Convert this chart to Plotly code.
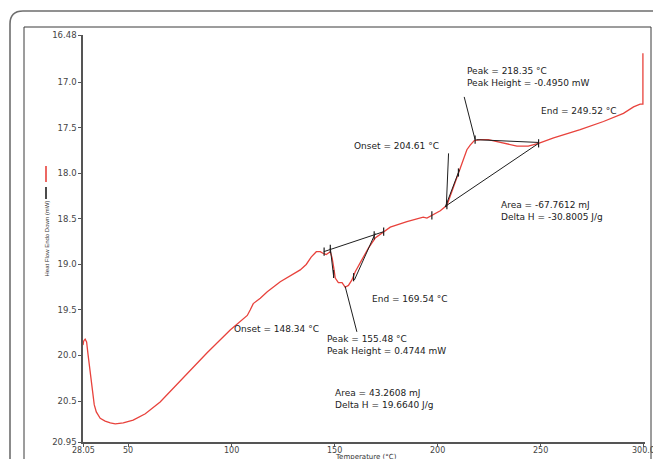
import plotly.graph_objects as go

# ---------------- data ----------------
temp_c = [28.05, 28.4, 29.1, 29.8, 30.5, 31.5, 32.5, 33.5, 34.5, 36.4, 38.8, 41.3, 43.7,
          47.6, 52.4, 58.3, 65.5, 76.7, 88.3, 99.5, 104.4, 107.8, 109.2, 110.7, 114.1,
          117.5, 123.8, 128.6, 133.5, 136.4, 138.8, 141.3, 143.2, 144.7, 146.1, 148.1,
          149.0, 149.8, 150.5, 152.0, 153.8, 155.3, 156.9, 158.6, 160.2, 163.4, 166.6,
          169.9, 173.9, 177.2, 185.3, 193.2, 195.0, 197.6, 201.5, 204.7, 207.3, 210.4,
          212.6, 214.4, 216.0, 218.0, 220.9, 224.8, 229.0, 233.0, 238.7, 244.2, 249.2,
          256.5, 269.4, 280.7, 290.4, 295.3, 298.5, 299.85, 299.85]
heat_flow_mw = [19.885, 19.84, 19.82, 19.85, 19.99, 20.18, 20.40, 20.54, 20.62, 20.69, 20.72,
                20.74, 20.75, 20.74, 20.71, 20.64, 20.51, 20.24, 19.97, 19.72, 19.63, 19.56,
                19.50, 19.43, 19.37, 19.30, 19.19, 19.13, 19.06, 19.00, 18.92, 18.86, 18.86,
                18.88, 18.89, 18.86, 18.93, 19.04, 19.15, 19.20, 19.20, 19.25, 19.23, 19.17,
                19.08, 18.95, 18.82, 18.71, 18.64, 18.59, 18.53, 18.48, 18.49, 18.46, 18.41,
                18.35, 18.18, 18.00, 17.85, 17.74, 17.69, 17.64, 17.63, 17.63, 17.65, 17.67,
                17.70, 17.70, 17.67, 17.61, 17.52, 17.43, 17.34, 17.27, 17.24, 17.24, 16.68]

# construction lines (baselines, onset / end tangents, peak pointers)
seg_t0 = [144.9, 148.1, 159.8, 155.3, 204.7, 219.0, 205.5, 203.9, 213.1]
seg_y0 = [18.86, 18.82, 19.17, 19.24, 18.35, 17.63, 17.78, 18.37, 17.16]
seg_t1 = [174.0, 149.7, 169.9, 161.0, 249.2, 249.2, 204.4, 210.8, 218.4]
seg_y1 = [18.64, 19.13, 18.66, 19.74, 17.67, 17.66, 18.37, 17.96, 17.63]

# short vertical limit marks
mark_t = [145.1, 148.1, 169.4, 174.0, 149.7, 159.4, 197.4, 204.7, 210.3, 218.4, 249.2]
mark_y = [18.86, 18.83, 18.68, 18.64, 19.105, 19.14, 18.46, 18.35, 17.99, 17.63, 17.67]

# text labels (each entry may hold one or two lines)
label_lines = [["Onset = 148.34 °C"],
               ["Peak = 155.48 °C", "Peak Height = 0.4744 mW"],
               ["End = 169.54 °C"],
               ["Area = 43.2608 mJ", "Delta H = 19.6640 J/g"],
               ["Onset = 204.61 °C"],
               ["Peak = 218.35 °C", "Peak Height = -0.4950 mW"],
               ["End = 249.52 °C"],
               ["Area = -67.7612 mJ", "Delta H = -30.8005 J/g"]]
label_t = [100.5, 145.6, 167.5, 149.2, 158.6, 213.3, 249.5, 230.2]
label_y = [19.71, 19.88, 19.38, 20.475, 17.70, 16.945, 17.32, 18.41]

x_tickvals = [28.05, 50, 100, 150, 200, 250, 300]
x_ticktext = ["28.05", "50", "100", "150", "200", "250", "300.0"]
y_tickvals = [16.48, 17.0, 17.5, 18.0, 18.5, 19.0, 19.5, 20.0, 20.5, 20.95]
y_ticktext = ["16.48", "17.0", "17.5", "18.0", "18.5", "19.0", "19.5", "20.0", "20.5", "20.95"]

# ---------------- layout geometry ----------------
W, H = 653, 459
ML, MR, MT, MB = 83, 8, 35, 17
PW, PH = W - ML - MR, H - MT - MB


def px(x):
    return (x - ML) / PW


def py(y):
    return (H - MB - y) / PH


FONT = "DejaVu Sans, Arial, sans-serif"
RED = "#e8423c"
BLACK = "#1e1e1e"

fig = go.Figure()

fig.add_trace(go.Scatter(x=temp_c, y=heat_flow_mw, mode="lines",
                         line=dict(color=RED, width=1.3), hoverinfo="skip"))

sx, sy = [], []
for a, b, c, d in zip(seg_t0, seg_y0, seg_t1, seg_y1):
    sx += [a, c, None]
    sy += [b, d, None]
fig.add_trace(go.Scatter(x=sx, y=sy, mode="lines",
                         line=dict(color=BLACK, width=1), hoverinfo="skip"))

mx, my = [], []
for t, v in zip(mark_t, mark_y):
    mx += [t, t, None]
    my += [v - 0.045, v + 0.045, None]
fig.add_trace(go.Scatter(x=mx, y=my, mode="lines",
                         line=dict(color=BLACK, width=1.2), hoverinfo="skip"))

annotations = []
for lines, t, v in zip(label_lines, label_t, label_y):
    annotations.append(dict(x=t, y=v, xref="x", yref="y", text="<br>".join(lines),
                            showarrow=False, xanchor="left", yanchor="middle", align="left",
                            font=dict(family=FONT, size=9, color="#222")))

# x tick labels (drawn as text so the clipped "300.0" at the edge is kept)
for tv, tt in zip(x_tickvals, x_ticktext):
    annotations.append(dict(x=tv, y=py(450.5), xref="x", yref="paper", text=tt,
                            showarrow=False, xanchor="center", yanchor="middle",
                            borderpad=0, font=dict(family=FONT, size=8, color="#444")))

annotations.append(dict(x=px(366), y=py(457), xref="paper", yref="paper",
                        text="Temperature (°C)", showarrow=False, borderpad=0,
                        xanchor="center", yanchor="middle",
                        font=dict(family=FONT, size=7, color="#333")))
annotations.append(dict(x=px(46), y=py(238.5), xref="paper", yref="paper",
                        text="Heat Flow Endo Down (mW)", showarrow=False, textangle=-90,
                        xanchor="center", yanchor="middle",
                        font=dict(family="Liberation Sans, Arial, sans-serif", size=6, color="#333")))

r = 13
outer = (f"M {px(670)} {py(11)} L {px(10 + r)} {py(11)} "
         f"Q {px(10)} {py(11)} {px(10)} {py(11 + r)} L {px(10)} {py(480)}")
shapes = [
    dict(type="path", xref="paper", yref="paper", path=outer,
         line=dict(color="#6e6e6e", width=1.6)),
    dict(type="path", xref="paper", yref="paper",
         path=f"M {px(24)} {py(480)} L {px(24)} {py(27)} L {px(651)} {py(27)} L {px(651)} {py(480)}",
         line=dict(color="#3a3a3a", width=1)),
    dict(type="line", xref="paper", yref="paper", x0=px(46), x1=px(46), y0=py(166), y1=py(182),
         line=dict(color=RED, width=1.6)),
    dict(type="line", xref="paper", yref="paper", x0=px(46), x1=px(46), y0=py(187), y1=py(199),
         line=dict(color=BLACK, width=1.6)),
]

fig.update_layout(
    width=W, height=H, margin=dict(l=ML, r=MR, t=MT, b=MB, pad=0, autoexpand=False),
    paper_bgcolor="white", plot_bgcolor="white", showlegend=False,
    annotations=annotations, shapes=shapes,
    xaxis=dict(range=[28.05, 28.05 + PW / 2.06], tickmode="array",
               tickvals=x_tickvals, ticktext=x_ticktext, showticklabels=False,
               showgrid=False, zeroline=False,
               showline=True, linecolor="#555", linewidth=1.5, ticks="outside",
               ticklen=3, tickcolor="#555", tickwidth=1),
    yaxis=dict(range=[20.95, 16.48], tickmode="array", tickvals=y_tickvals,
               ticktext=y_ticktext, showgrid=False, zeroline=False, showline=True,
               linecolor="#555", linewidth=1.5, ticks="outside", ticklen=3,
               tickcolor="#555", tickwidth=1, ticklabeloverflow="allow",
               tickfont=dict(family=FONT, size=8.5, color="#444")),
)

fig.write_html("out.html")
